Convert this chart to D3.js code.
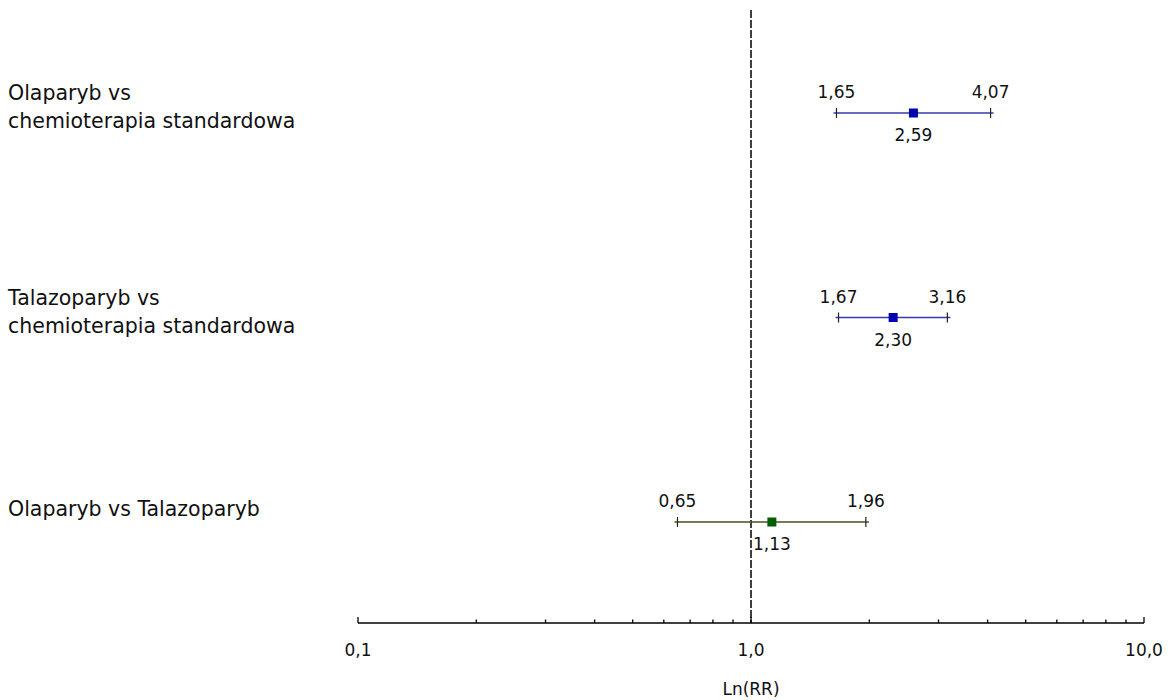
<!DOCTYPE html>
<html>
<head>
<meta charset="utf-8">
<script src="https://d3js.org/d3.v7.min.js"></script>
<style>
  body { margin: 0; background: #fff; }
  svg text { font-family: "DejaVu Sans", sans-serif; fill: #111; }
</style>
</head>
<body>
<svg id="chart" width="1173" height="700"></svg>
<script>
// comparisons (label lines), estimates and 95% CI
var labels = [
    ["Olaparyb vs", "chemioterapia standardowa"],
    ["Talazoparyb vs", "chemioterapia standardowa"],
    ["Olaparyb vs Talazoparyb"]
];
var rr    = [2.59, 2.30, 1.13];
var lower = [1.65, 1.67, 0.65];
var upper = [4.07, 3.16, 1.96];
var lineColors = ["#3a3aa8", "#3a3aa8", "#4d4d26"];
var boxColors  = ["#0000b0", "#0000b0", "#006000"];

var tickValues = [0.1, 1, 10];
var minorTicks = [0.2,0.3,0.4,0.5,0.6,0.7,0.8,0.9,2,3,4,5,6,7,8,9];

var fmt = v => v.toFixed(2).replace(".", ",");
var fmtTick = v => v.toFixed(1).replace(".", ",");

var svg = d3.select("#chart");

var x = d3.scaleLog().domain([0.1, 10]).range([358, 1144]);
var y = d3.scalePoint().domain(d3.range(labels.length)).range([113, 522]);
var axisY = 623;

// reference line at 1
svg.append("line")
    .attr("x1", x(1)).attr("x2", x(1))
    .attr("y1", 10).attr("y2", axisY)
    .attr("stroke", "#000").attr("stroke-width", 1.5)
    .attr("stroke-dasharray", "8,2");

// axis
var axis = svg.append("g").attr("transform", "translate(0," + axisY + ")");
axis.append("line").attr("x1", x(0.1)).attr("x2", x(10))
    .attr("stroke", "#000").attr("stroke-width", 1.3);
axis.selectAll(".minor").data(minorTicks).enter().append("line")
    .attr("x1", d => x(d)).attr("x2", d => x(d))
    .attr("y1", 0).attr("y2", -3.5)
    .attr("stroke", "#000").attr("stroke-width", 1.3);
axis.selectAll(".major").data(tickValues).enter().append("line")
    .attr("x1", d => x(d)).attr("x2", d => x(d))
    .attr("y1", 0).attr("y2", -6)
    .attr("stroke", "#000").attr("stroke-width", 1.3);
axis.selectAll(".tl").data(tickValues).enter().append("text")
    .attr("x", d => x(d)).attr("y", 33)
    .attr("text-anchor", "middle")
    .attr("font-size", 17)
    .text(fmtTick);

svg.append("text")
    .attr("x", x(1)).attr("y", 695)
    .attr("text-anchor", "middle")
    .attr("font-size", 17)
    .text("Ln(RR)");

// row labels
labels.forEach(function(lines, i) {
    var yy = y(i);
    var t = svg.append("text").attr("font-size", 20.5);
    var startY = lines.length == 2 ? yy - 13 : yy - 6;
    lines.forEach(function(l, j) {
        t.append("tspan").attr("x", 8).attr("y", startY + j * 28).text(l);
    });
});

// CI lines
var rows = svg.selectAll(".row").data(rr).enter().append("g");

rows.append("line")
    .attr("x1", (d, i) => x(lower[i]) - 3).attr("x2", (d, i) => x(upper[i]) + 3)
    .attr("y1", (d, i) => y(i)).attr("y2", (d, i) => y(i))
    .attr("stroke", (d, i) => lineColors[i]).attr("stroke-width", 1.3);

rows.append("line")
    .attr("x1", (d, i) => x(lower[i])).attr("x2", (d, i) => x(lower[i]))
    .attr("y1", (d, i) => y(i) - 5).attr("y2", (d, i) => y(i) + 5)
    .attr("stroke", "#222").attr("stroke-width", 1.2);
rows.append("line")
    .attr("x1", (d, i) => x(upper[i])).attr("x2", (d, i) => x(upper[i]))
    .attr("y1", (d, i) => y(i) - 5).attr("y2", (d, i) => y(i) + 5)
    .attr("stroke", "#222").attr("stroke-width", 1.2);

rows.append("rect")
    .attr("x", (d, i) => x(d) - 4.5).attr("y", (d, i) => y(i) - 4.5)
    .attr("width", 9).attr("height", 9)
    .attr("fill", (d, i) => boxColors[i]);

// value labels
rows.append("text")
    .attr("x", (d, i) => x(lower[i])).attr("y", (d, i) => y(i) - 15)
    .attr("text-anchor", "middle").attr("font-size", 17)
    .text((d, i) => fmt(lower[i]));
rows.append("text")
    .attr("x", (d, i) => x(upper[i])).attr("y", (d, i) => y(i) - 15)
    .attr("text-anchor", "middle").attr("font-size", 17)
    .text((d, i) => fmt(upper[i]));
rows.append("text")
    .attr("x", d => x(d)).attr("y", (d, i) => y(i) + 28)
    .attr("text-anchor", "middle").attr("font-size", 17)
    .text(d => fmt(d));
</script>
</body>
</html>
